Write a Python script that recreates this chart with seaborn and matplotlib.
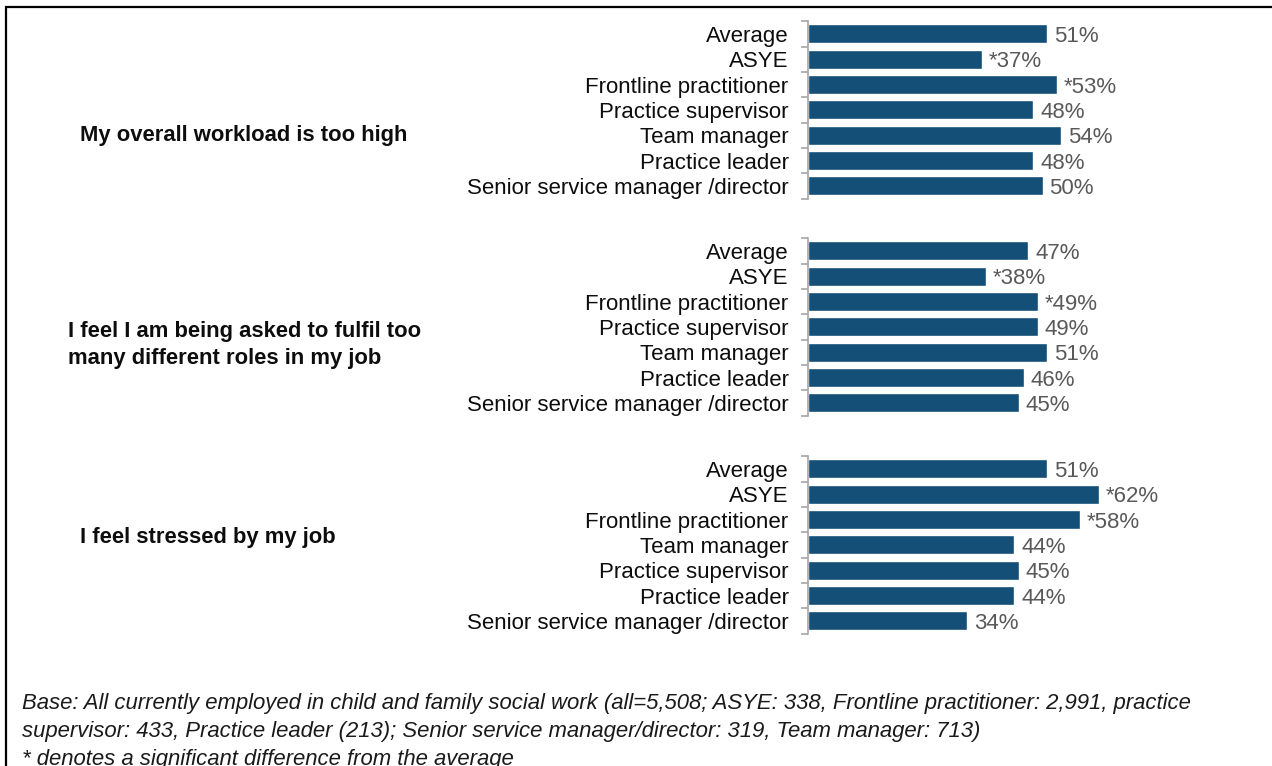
import matplotlib
matplotlib.use("Agg")
import matplotlib.pyplot as plt
from matplotlib.patches import Rectangle
import seaborn as sns
import pandas as pd

# ---- data ----
group_titles = [
    "My overall workload is too high",
    "I feel I am being asked to fulfil too\nmany different roles in my job",
    "I feel stressed by my job",
]

roles_1 = ["Average", "ASYE", "Frontline practitioner", "Practice supervisor",
           "Team manager", "Practice leader", "Senior service manager /director"]
values_1 = [51, 37, 53, 48, 54, 48, 50]
signif_1 = [False, True, True, False, False, False, False]

roles_2 = ["Average", "ASYE", "Frontline practitioner", "Practice supervisor",
           "Team manager", "Practice leader", "Senior service manager /director"]
values_2 = [47, 38, 49, 49, 51, 46, 45]
signif_2 = [False, True, True, False, False, False, False]

roles_3 = ["Average", "ASYE", "Frontline practitioner", "Team manager",
           "Practice supervisor", "Practice leader", "Senior service manager /director"]
values_3 = [51, 62, 58, 44, 45, 44, 34]
signif_3 = [False, True, True, False, False, False, False]

footnote = [
    "Base: All currently employed in child and family social work (all=5,508; ASYE: 338, "
    "Frontline practitioner: 2,991, practice",
    "supervisor: 433, Practice leader (213); Senior service manager/director: 319, Team manager: 713)",
    "* denotes a significant difference from the average",
]

# ---- style ----
sns.set_style("white")
plt.rcParams["font.family"] = ["Liberation Sans", "DejaVu Sans"]

BAR = "#134F77"
AXIS_GREY = "#A6A6A6"
LABEL_GREY = "#595959"
W, H = 1272, 766

fig = plt.figure(figsize=(W / 100, H / 100), dpi=100)

groups = [(roles_1, values_1, signif_1), (roles_2, values_2, signif_2),
          (roles_3, values_3, signif_3)]
tops_px = [21.3, 238.3, 456.3]      # top of each axis segment in pixels
row_px = 25.33
ax_left_px, ax_right_px = 808, 1160
xmax = (ax_right_px - ax_left_px) / 4.69
title_pos = [(80, 135), (68, 345), (80, 538)]

for (roles, vals, sig), top, title, (tx, ty) in zip(groups, tops_px, group_titles, title_pos):
    hgt = row_px * len(roles)
    ax = fig.add_axes([ax_left_px / W, 1 - (top + hgt) / H,
                       (ax_right_px - ax_left_px) / W, hgt / H])
    df = pd.DataFrame({"role": roles, "value": vals})
    sns.barplot(data=df, x="value", y="role", orient="h", color=BAR,
                width=0.75, saturation=1, ax=ax)
    labels = [("*" if s else "") + f"{v}%" for v, s in zip(vals, sig)]
    texts = ax.bar_label(ax.containers[0], labels=labels, padding=5,
                         fontsize=16, color=LABEL_GREY)
    for t in texts:
        t.set_va("center_baseline")
    ax.set_xlim(0, xmax)
    ax.set_ylim(len(roles) - 0.5, -0.5)
    ax.set_xlabel("")
    ax.set_ylabel("")
    ax.set_xticks([])
    for s in ["top", "right", "bottom"]:
        ax.spines[s].set_visible(False)
    ax.spines["left"].set_color(AXIS_GREY)
    ax.spines["left"].set_linewidth(1.2)
    ax.tick_params(axis="y", which="major", left=True, length=0, pad=14,
                   labelsize=16, labelcolor="#0D0D0D")
    for t in ax.get_yticklabels():
        t.set_va("center_baseline")
    ax.set_yticks([i - 0.5 for i in range(len(roles) + 1)], minor=True)
    ax.tick_params(axis="y", which="minor", left=True, length=5, width=1.2,
                   color=AXIS_GREY, direction="out")
    ax.patch.set_alpha(0)
    fig.text(tx / W, 1 - ty / H, title, ha="left", va="center",
             fontsize=15.8, fontweight="bold", color="#0D0D0D", linespacing=1.4)

for i, line in enumerate(footnote):
    fig.text(22 / W, 1 - (703 + 28 * i) / H, line, ha="left", va="center",
             fontsize=15.9, style="italic", color="#1A1A1A")

# outer frame (runs off the right and bottom edges)
fig.add_artist(Rectangle((5.5 / W, -0.05), 1.1, 1 - 6.5 / H + 0.05,
                         transform=fig.transFigure, fill=False,
                         edgecolor="black", linewidth=1.6))

fig.savefig("out.png", dpi=100)
